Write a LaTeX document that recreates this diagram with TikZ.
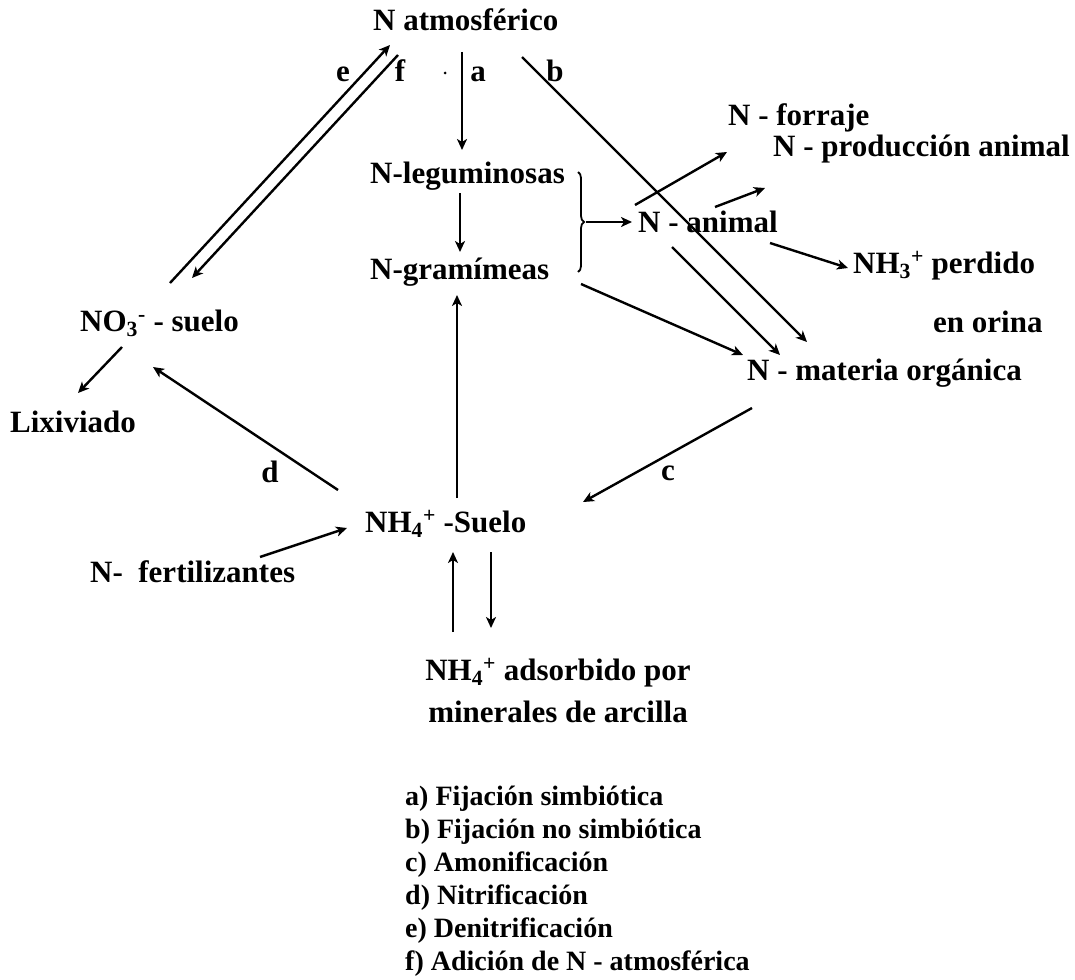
\documentclass[tikz,border=0pt]{standalone}
\usepackage{fontspec}
\setmainfont{Liberation Serif}
\usepackage{xcolor}
\usepackage{tikz}
\usetikzlibrary{arrows.meta, decorations.pathreplacing}

\begin{document}
\begin{tikzpicture}[x = 1pt, y = -1pt,
		flowArrow/.style = {-{Stealth[length=11pt, width=10pt, inset=3pt]}, line width = 2.4pt, color = black},
		flowLine/.style = {line width = 2.4pt, color = black},
		boxText/.style = {anchor = base west, inner sep = 0pt, font = \fontsize{31}{34}\selectfont\bfseries},
		stepText/.style = {anchor = base, inner sep = 0pt, font = \fontsize{31}{34}\selectfont\bfseries},
		keyText/.style = {anchor = base west, inner sep = 0pt, font = \fontsize{28}{33}\selectfont\bfseries}]
	\useasboundingbox (0, 0) rectangle (1075, 979);

	\node[boxText] (nAtm) at (373, 31) {N atmosférico};
	\node[boxText] (nLeg) at (370, 183) {N-leguminosas};
	\node[boxText] (nGram) at (370, 279) {N-gramímeas};
	\node[boxText] (nAnimal) at (638, 232) {N - animal};
	\node[boxText] (nForraje) at (728, 125) {N - forraje};
	\node[boxText] (nProd) at (773, 156) {N - producción animal};
	\node[boxText] (nAmoniaco) at (853, 273) {NH\textsubscript{3}\textsuperscript{+} perdido};
	\node[boxText] (nOrina) at (933, 332) {en orina};
	\node[boxText] (nMateria) at (747, 380) {N - materia orgánica};
	\node[boxText] (nNitrato) at (80, 331) {NO\textsubscript{3}\textsuperscript{-} - suelo};
	\node[boxText] (nLix) at (10, 432) {Lixiviado};
	\node[boxText] (nAmonio) at (365, 532) {NH\textsubscript{4}\textsuperscript{+} -Suelo};
	\node[boxText] (nFert) at (90, 582) {N-\ \ fertilizantes};
	\node[boxText, anchor = base] (nAdsorb) at (558, 680) {NH\textsubscript{4}\textsuperscript{+} adsorbido por};
	\node[boxText, anchor = base] (nArcilla) at (558, 722) {minerales de arcilla};

	\node[stepText] (labE) at (343, 82) {e};
	\node[stepText] (labF) at (400, 82) {f};
	\node[stepText] (labA) at (478, 82) {a};
	\node[stepText] (labB) at (555, 82) {b};
	\node[stepText] (labC) at (668, 480) {c};
	\node[stepText] (labD) at (270, 482) {d};
	\fill (445, 73) circle [radius = 1.5];

	\draw[flowArrow] ([shift = {(89, 21)}]nAtm.base west) -- ([shift = {(92, -33)}]nLeg.base west);
	\draw[flowArrow] ([shift = {(149, 26)}]nAtm.base west) -- ([shift = {(60, -38)}]nMateria.base west);
	\draw[flowArrow] ([shift = {(90, -48)}]nNitrato.base west) -- ([shift = {(17, 14)}]nAtm.base west);
	\draw[flowArrow] ([shift = {(25, 24)}]nAtm.base west) -- ([shift = {(112, -53)}]nNitrato.base west);
	\draw[flowArrow] ([shift = {(90, 10)}]nLeg.base west) -- ([shift = {(90, -27)}]nGram.base west);

	\coordinate (braceTop) at ([shift = {(208, -11)}]nLeg.base west);
	\coordinate (braceBot) at ([shift = {(208, -7)}]nGram.base west);
	\coordinate (braceTip) at ([shift = {(216, -57)}]nGram.base west);
	\draw[flowLine, line width = 1.8pt, decorate, decoration = {brace, amplitude = 6pt}] (braceTop) -- (braceBot);
	\draw[flowArrow] (braceTip) -- ([shift = {(-6, -10)}]nAnimal.base west);

	\draw[flowArrow] ([shift = {(-3, -27)}]nAnimal.base west) -- ([shift = {(-1, 27)}]nForraje.base west);
	\draw[flowArrow] ([shift = {(77, -25)}]nAnimal.base west) -- ([shift = {(-8, 32)}]nProd.base west);
	\draw[flowArrow] ([shift = {(132, 11)}]nAnimal.base west) -- ([shift = {(-5, -5)}]nAmoniaco.base west);
	\draw[flowArrow] ([shift = {(34, 15)}]nAnimal.base west) -- ([shift = {(33, -25)}]nMateria.base west);
	\draw[flowArrow] ([shift = {(211, 5)}]nGram.base west) -- ([shift = {(-4, -25)}]nMateria.base west);

	\draw[flowArrow] ([shift = {(92, -34)}]nAmonio.base west) -- ([shift = {(87, 16)}]nGram.base west);
	\draw[flowArrow] ([shift = {(5, 28)}]nMateria.base west) -- ([shift = {(218, -30)}]nAmonio.base west);
	\draw[flowArrow] ([shift = {(-27, -42)}]nAmonio.base west) -- ([shift = {(73, 36)}]nNitrato.base west);
	\draw[flowArrow] ([shift = {(42, 16)}]nNitrato.base west) -- ([shift = {(68, -39)}]nLix.base west);
	\draw[flowArrow] ([shift = {(170, -25)}]nFert.base west) -- ([shift = {(-18, -4)}]nAmonio.base west);
	\draw[flowArrow] ([shift = {(-105, -48)}]nAdsorb.base) -- ([shift = {(88, 20)}]nAmonio.base west);
	\draw[flowArrow] ([shift = {(126, 20)}]nAmonio.base west) -- ([shift = {(-67, -52)}]nAdsorb.base);

	\foreach \entry [count = \i from 0] in {a) Fijación simbiótica, b) Fijación no simbiótica, c) Amonificación, d) Nitrificación, e) Denitrificación, f) Adición de N - atmosférica}
		\node[keyText] (key\i) at (405, 805 + 33*\i) {\entry};
\end{tikzpicture}
\end{document}
